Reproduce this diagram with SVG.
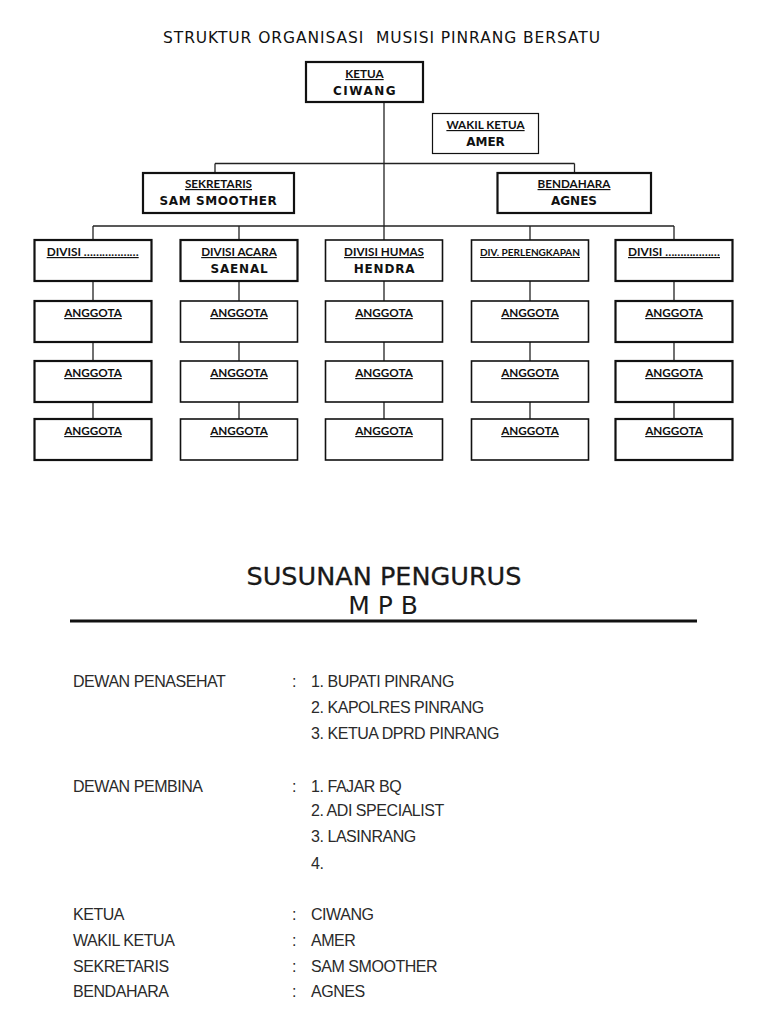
<svg xmlns="http://www.w3.org/2000/svg" width="768" height="1024" viewBox="0 0 768 1024">
<style>
.box{fill:#fff;stroke:#111;stroke-width:1.6}
.thick{stroke-width:2.2}
.thin{stroke-width:1.2}
.lbl{font-family:Lato,"Liberation Sans",sans-serif;font-weight:bold;font-size:11.7px;fill:#111;text-anchor:middle;text-decoration:underline}
.nm{font-family:"DejaVu Sans",Verdana,sans-serif;font-weight:bold;font-size:12px;fill:#111;text-anchor:middle}
.conn line{stroke:#222;stroke-width:1.3}
.lst{font-family:"Liberation Sans",Arial,sans-serif;font-size:16px;fill:#2a2a2a;letter-spacing:-0.45px}
</style>
<rect width="768" height="1024" fill="#fff"/>
<text x="163" y="43" font-family="DejaVu Sans,Verdana,sans-serif" font-size="15.5" fill="#111" textLength="437" lengthAdjust="spacing" style="white-space:pre">STRUKTUR ORGANISASI  MUSISI PINRANG BERSATU</text>

<g id="connectors" class="conn">
<line x1="384" y1="102" x2="384" y2="240"/>
<line x1="215" y1="163.5" x2="574.5" y2="163.5"/>
<line x1="215" y1="163.5" x2="215" y2="173"/>
<line x1="574.5" y1="163.5" x2="574.5" y2="173"/>
<line x1="93" y1="226" x2="674" y2="226"/>
<line x1="93" y1="226" x2="93" y2="240"/>
<line x1="239" y1="226" x2="239" y2="240"/>
<line x1="530" y1="226" x2="530" y2="240"/>
<line x1="674" y1="226" x2="674" y2="240"/>
<line x1="93" y1="281" x2="93" y2="301"/><line x1="93" y1="342" x2="93" y2="361"/><line x1="93" y1="402" x2="93" y2="419"/>
<line x1="239" y1="281" x2="239" y2="301"/><line x1="239" y1="342" x2="239" y2="361"/><line x1="239" y1="402" x2="239" y2="419"/>
<line x1="384" y1="281" x2="384" y2="301"/><line x1="384" y1="342" x2="384" y2="361"/><line x1="384" y1="402" x2="384" y2="419"/>
<line x1="530" y1="281" x2="530" y2="301"/><line x1="530" y1="342" x2="530" y2="361"/><line x1="530" y1="402" x2="530" y2="419"/>
<line x1="674" y1="281" x2="674" y2="301"/><line x1="674" y1="342" x2="674" y2="361"/><line x1="674" y1="402" x2="674" y2="419"/>
</g>

<g id="ketua"><rect class="box thick" x="306" y="62" width="117" height="40"/><text class="lbl" x="364.5" y="78">KETUA</text><text class="nm" x="365" y="95" letter-spacing="1.5">CIWANG</text></g>
<g id="wakil"><rect class="box thin" x="432.5" y="113.5" width="106" height="40"/><text class="lbl" x="485.5" y="129">WAKIL KETUA</text><text class="nm" x="485.5" y="146">AMER</text></g>
<g id="sekretaris"><rect class="box thick" x="143" y="173" width="151" height="40"/><text class="lbl" x="218.5" y="188">SEKRETARIS</text><text class="nm" x="218.5" y="205" letter-spacing="0.6">SAM SMOOTHER</text></g>
<g id="bendahara"><rect class="box thick" x="497.5" y="173" width="153.5" height="40"/><text class="lbl" x="574" y="188">BENDAHARA</text><text class="nm" x="574" y="205">AGNES</text></g>

<g id="div1"><rect class="box thick" x="34.5" y="240" width="117" height="41"/><text class="lbl" x="46.7" y="256" style="text-anchor:start" textLength="92" lengthAdjust="spacingAndGlyphs">DIVISI ………………</text></g>
<g id="div2"><rect class="box thick" x="180.5" y="240" width="117" height="41"/><text class="lbl" x="239" y="256">DIVISI ACARA</text><text class="nm" x="239.5" y="273" letter-spacing="0.8">SAENAL</text></g>
<g id="div3"><rect class="box" x="325.5" y="240" width="117" height="41"/><text class="lbl" x="384" y="256">DIVISI HUMAS</text><text class="nm" x="384.5" y="273" letter-spacing="0.8">HENDRA</text></g>
<g id="div4"><rect class="box" x="471.5" y="240" width="117" height="41"/><text class="lbl" x="530" y="256" style="font-size:10px" textLength="100" lengthAdjust="spacingAndGlyphs">DIV. PERLENGKAPAN</text></g>
<g id="div5"><rect class="box thick" x="615.5" y="240" width="117" height="41"/><text class="lbl" x="628" y="256" style="text-anchor:start" textLength="92" lengthAdjust="spacingAndGlyphs">DIVISI ………………</text></g>

<g id="a11"><rect class="box thick" x="34.5" y="301" width="117" height="41"/><text class="lbl" x="93" y="317">ANGGOTA</text></g>
<g id="a12"><rect class="box thick" x="34.5" y="361" width="117" height="41"/><text class="lbl" x="93" y="377">ANGGOTA</text></g>
<g id="a13"><rect class="box thick" x="34.5" y="419" width="117" height="41"/><text class="lbl" x="93" y="435">ANGGOTA</text></g>
<g id="a21"><rect class="box" x="180.5" y="301" width="117" height="41"/><text class="lbl" x="239" y="317">ANGGOTA</text></g>
<g id="a22"><rect class="box" x="180.5" y="361" width="117" height="41"/><text class="lbl" x="239" y="377">ANGGOTA</text></g>
<g id="a23"><rect class="box" x="180.5" y="419" width="117" height="41"/><text class="lbl" x="239" y="435">ANGGOTA</text></g>
<g id="a31"><rect class="box" x="325.5" y="301" width="117" height="41"/><text class="lbl" x="384" y="317">ANGGOTA</text></g>
<g id="a32"><rect class="box" x="325.5" y="361" width="117" height="41"/><text class="lbl" x="384" y="377">ANGGOTA</text></g>
<g id="a33"><rect class="box" x="325.5" y="419" width="117" height="41"/><text class="lbl" x="384" y="435">ANGGOTA</text></g>
<g id="a41"><rect class="box" x="471.5" y="301" width="117" height="41"/><text class="lbl" x="530" y="317">ANGGOTA</text></g>
<g id="a42"><rect class="box" x="471.5" y="361" width="117" height="41"/><text class="lbl" x="530" y="377">ANGGOTA</text></g>
<g id="a43"><rect class="box" x="471.5" y="419" width="117" height="41"/><text class="lbl" x="530" y="435">ANGGOTA</text></g>
<g id="a51"><rect class="box thick" x="615.5" y="301" width="117" height="41"/><text class="lbl" x="674" y="317">ANGGOTA</text></g>
<g id="a52"><rect class="box thick" x="615.5" y="361" width="117" height="41"/><text class="lbl" x="674" y="377">ANGGOTA</text></g>
<g id="a53"><rect class="box thick" x="615.5" y="419" width="117" height="41"/><text class="lbl" x="674" y="435">ANGGOTA</text></g>

<text x="384" y="585" font-family="DejaVu Sans,sans-serif" font-size="25.5" fill="#1a1a1a" stroke="#1a1a1a" stroke-width="0.3" text-anchor="middle">SUSUNAN PENGURUS</text>
<text x="383" y="614" font-family="DejaVu Sans,sans-serif" font-size="25" fill="#1a1a1a" text-anchor="middle" style="white-space:pre">M P B</text>
<line x1="70" y1="621" x2="697" y2="621" stroke="#111" stroke-width="3"/>

<g class="lst">
<text x="73" y="687">DEWAN PENASEHAT</text><text x="292" y="687">:</text>
<text x="311" y="687">1. BUPATI PINRANG</text>
<text x="311" y="713">2. KAPOLRES PINRANG</text>
<text x="311" y="739">3. KETUA DPRD PINRANG</text>
<text x="73" y="792">DEWAN PEMBINA</text><text x="292" y="792">:</text>
<text x="311" y="792">1. FAJAR BQ</text>
<text x="311" y="816">2. ADI SPECIALIST</text>
<text x="311" y="842">3. LASINRANG</text>
<text x="311" y="869">4.</text>
<text x="73" y="920">KETUA</text><text x="292" y="920">:</text><text x="311" y="920">CIWANG</text>
<text x="73" y="946">WAKIL KETUA</text><text x="292" y="946">:</text><text x="311" y="946">AMER</text>
<text x="73" y="972">SEKRETARIS</text><text x="292" y="972">:</text><text x="311" y="972">SAM SMOOTHER</text>
<text x="73" y="997">BENDAHARA</text><text x="292" y="997">:</text><text x="311" y="997">AGNES</text>
</g>
</svg>
